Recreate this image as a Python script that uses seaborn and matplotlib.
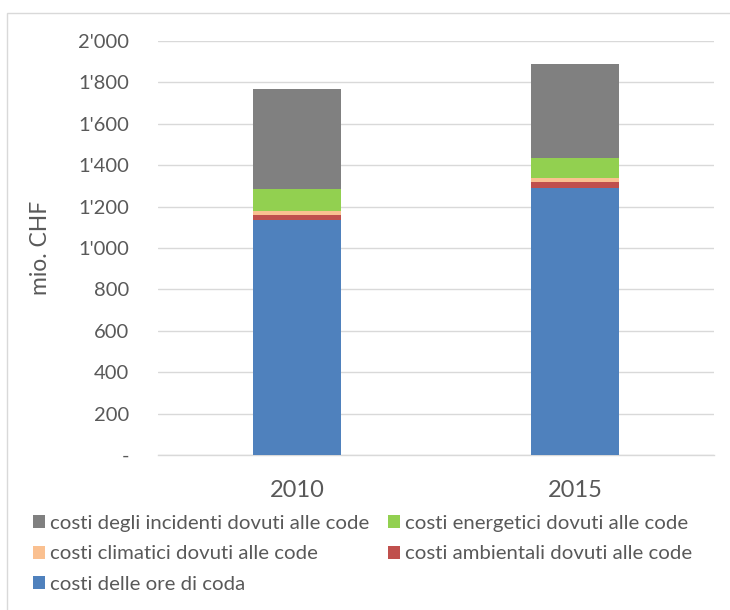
import matplotlib
matplotlib.use("Agg")
import matplotlib.pyplot as plt
from matplotlib.patches import Rectangle, Patch
from matplotlib.ticker import FuncFormatter
import numpy as np
import pandas as pd
import seaborn as sns

years = ["2010", "2015"]
ore_coda = [1136, 1290]
ambientali = [24, 27]
climatici = [18, 19]
energetici = [107, 101]
incidenti = [482, 452]

labels = {
    "ore": "costi delle ore di coda",
    "amb": "costi ambientali dovuti alle code",
    "cli": "costi climatici dovuti alle code",
    "ene": "costi energetici dovuti alle code",
    "inc": "costi degli incidenti dovuti alle code",
}
colors = {
    "ore": "#4F81BD",
    "amb": "#C0504D",
    "cli": "#FAC090",
    "ene": "#92D050",
    "inc": "#808080",
}

sns.set_theme(style="white")
plt.rcParams["font.family"] = ["Lato", "DejaVu Sans"]
txt = "#595959"

fig = plt.figure(figsize=(7.3, 6.1), dpi=100)
ax = fig.add_axes([158 / 730, 1 - 455 / 610, (714 - 158) / 730, (455 - 41) / 610])

layers = [("ore", ore_coda), ("amb", ambientali), ("cli", climatici), ("ene", energetici), ("inc", incidenti)]
cum = np.zeros(len(years))
cums = []
for key, vals in layers:
    cum = cum + np.array(vals, dtype=float)
    cums.append((key, cum.copy()))

# draw from the tallest cumulative down so smaller layers overlay
for key, c in reversed(cums):
    df = pd.DataFrame({"year": years, "value": c})
    sns.barplot(data=df, x="year", y="value", color=colors[key], width=0.32,
                saturation=1, ax=ax, linewidth=0, zorder=3)

ax.set_ylim(0, 2000)
ax.set_xlim(-0.5, 1.5)
ax.set_yticks(np.arange(0, 2001, 200))

def fmt(v, pos):
    if v == 0:
        return "-"
    v = int(round(v))
    if v >= 1000:
        return f"{v // 1000}'{v % 1000:03d}"
    return str(v)

ax.yaxis.set_major_formatter(FuncFormatter(fmt))
ax.grid(axis="y", color="#D9D9D9", linewidth=1.0, zorder=0)
ax.set_axisbelow(True)
for s in ["left", "right", "top"]:
    ax.spines[s].set_visible(False)
ax.spines["bottom"].set_color("#D9D9D9")
ax.spines["bottom"].set_linewidth(1.0)
ax.tick_params(axis="y", length=0, pad=21, labelsize=14.5, labelcolor=txt)
ax.tick_params(axis="x", length=0, pad=18, labelsize=17, labelcolor=txt)
ax.set_xlabel("")
ax.set_ylabel("mio. CHF", fontsize=16.5, color=txt, labelpad=19)

handles_order = ["inc", "cli", "ore", "ene", "amb"]
handles = [Patch(facecolor=colors[k], edgecolor="none", label=labels[k]) for k in handles_order]
leg = fig.legend(handles=handles, ncol=2, loc="upper left", bbox_to_anchor=(33 / 730, 1 - 515 / 610),
                 frameon=False, fontsize=14.7, labelcolor=txt, handlelength=0.6, handleheight=0.6,
                 handletextpad=0.25, columnspacing=0.88, labelspacing=0.66, borderaxespad=0,
                 borderpad=0)

fig.patches.append(Rectangle((7 / 730, -0.01), 1.0, 1 - 13 / 610 + 0.01, transform=fig.transFigure,
                             fill=False, edgecolor="#D9D9D9", linewidth=1.0))

fig.savefig("out.png", dpi=100)
